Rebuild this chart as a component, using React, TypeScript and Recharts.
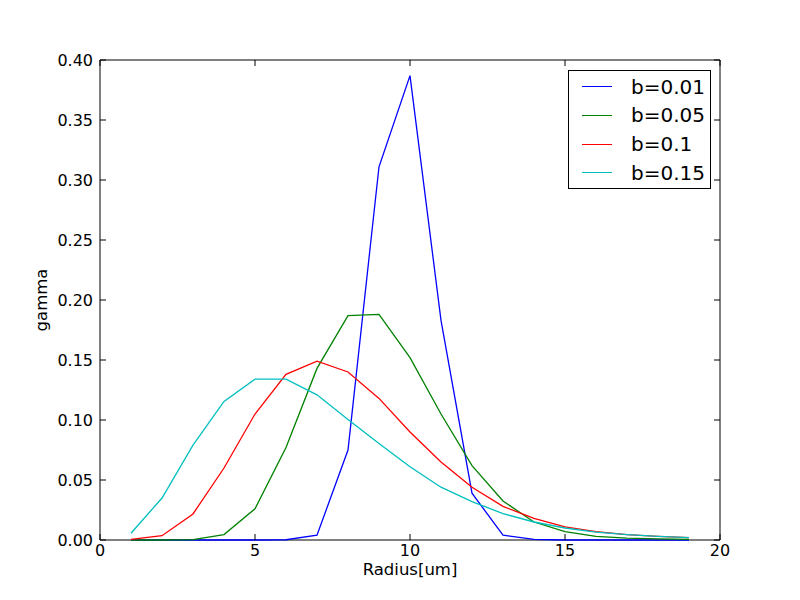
import React from 'react';
import { LineChart, Line, XAxis, YAxis, ReferenceArea } from 'recharts';

const radius = [1, 2, 3, 4, 5, 6, 7, 8, 9, 10, 11, 12, 13, 14, 15, 16, 17, 18, 19];
const b001 = [0, 0, 0, 0, 0, 0.0002, 0.004, 0.075, 0.311, 0.387, 0.183, 0.039, 0.004, 0.0005, 0, 0, 0, 0, 0];
const b005 = [0, 0, 0.0003, 0.0045, 0.026, 0.077, 0.143, 0.187, 0.188, 0.152, 0.105, 0.062, 0.0325, 0.015, 0.007, 0.003, 0.0015, 0.001, 0.0005];
const b01 = [0.0006, 0.0036, 0.0217, 0.06, 0.105, 0.138, 0.149, 0.14, 0.118, 0.09, 0.065, 0.044, 0.028, 0.018, 0.011, 0.007, 0.0045, 0.003, 0.002];
const b015 = [0.0056, 0.035, 0.079, 0.1155, 0.134, 0.134, 0.121, 0.1005, 0.0805, 0.061, 0.044, 0.032, 0.022, 0.015, 0.01, 0.0065, 0.0045, 0.003, 0.002];

const xTicks = [0, 5, 10, 15, 20];
const yTicks = [0, 0.05, 0.1, 0.15, 0.2, 0.25, 0.3, 0.35, 0.4];

const seriesNames = ['b=0.01', 'b=0.05', 'b=0.1', 'b=0.15'];
const seriesColors = ['#0000ff', '#008000', '#ff0000', '#00bfbf'];
const seriesKeys = ['s1', 's2', 's3', 's4'];

const data = radius.map((r, i) => ({ r, s1: b001[i], s2: b005[i], s3: b01[i], s4: b015[i] }));

const FONT = 'DejaVu Sans, sans-serif';
const FS = 16;
const PLOT_LEFT = 92;
const PLOT_RIGHT = 712;
const PLOT_TOP = 52;
const PLOT_BOTTOM = 532;
const TL = 6;
const LW = 1.3;

const bottomTick = (p: any) => (
  <g key={'b' + p.index}>
    <path d={`M${p.x},${PLOT_BOTTOM}V${PLOT_BOTTOM - TL}`} stroke="#000" strokeWidth={1} fill="none" />
    <path d={`M${p.x},${PLOT_TOP}V${PLOT_TOP + TL}`} stroke="#000" strokeWidth={1} fill="none" />
    <text x={p.x} y={PLOT_BOTTOM + 16} textAnchor="middle" fontSize={FS} fontFamily={FONT} fill="#000">
      {p.payload.value}
    </text>
  </g>
);
const leftTick = (p: any) => (
  <g key={'l' + p.index}>
    <path d={`M${PLOT_LEFT},${p.y}H${PLOT_LEFT + TL}`} stroke="#000" strokeWidth={1} fill="none" />
    <path d={`M${PLOT_RIGHT},${p.y}H${PLOT_RIGHT - TL}`} stroke="#000" strokeWidth={1} fill="none" />
    <text x={PLOT_LEFT - 7} y={p.y + 5.8} textAnchor="end" fontSize={FS} fontFamily={FONT} fill="#000">
      {Number(p.payload.value).toFixed(2)}
    </text>
  </g>
);

export default function App() {
  return (
    <div style={{ width: 792, height: 592, position: 'relative', background: '#fff' }}>
      <LineChart width={792} height={592} data={data} margin={{ top: 52, right: 80, bottom: 30, left: 32 }}>
        <XAxis
          xAxisId="b"
          dataKey="r"
          type="number"
          domain={[0, 20]}
          ticks={xTicks}
          tick={bottomTick}
          tickLine={false}
          tickSize={0}
          height={30}
          axisLine={false}
          label={{
            content: () => (
              <text x={402} y={566.5} textAnchor="middle" fontSize={16.5} fontFamily={FONT} fill="#000">
                Radius[um]
              </text>
            ),
          }}
        />
        <YAxis
          yAxisId="l"
          type="number"
          domain={[0, 0.4]}
          ticks={yTicks}
          tick={leftTick}
          tickLine={false}
          tickSize={0}
          width={60}
          axisLine={false}
          label={{
            content: () => (
              <text
                x={38.5}
                y={292}
                textAnchor="middle"
                fontSize={16.5}
                fontFamily={FONT}
                fill="#000"
                transform="rotate(-90 38.5 292)"
              >
                gamma
              </text>
            ),
          }}
        />
        <ReferenceArea
          xAxisId="b"
          yAxisId="l"
          x1={0}
          x2={20}
          y1={0}
          y2={0.4}
          fill="none"
          fillOpacity={0}
          stroke="#000"
          strokeWidth={1}
          strokeOpacity={1}
          ifOverflow="visible"
        />
        {seriesKeys.map((k, i) => (
          <Line
            key={k}
            xAxisId="b"
            yAxisId="l"
            dataKey={k}
            name={seriesNames[i]}
            stroke={seriesColors[i]}
            strokeWidth={LW}
            dot={false}
            isAnimationActive={false}
            type="linear"
          />
        ))}
      </LineChart>
      <div
        style={{
          position: 'absolute',
          top: 62,
          left: 560,
          width: 143,
          height: 119,
          border: '1px solid #000',
          background: '#fff',
          boxSizing: 'border-box',
          fontFamily: FONT,
          fontSize: 20,
          paddingTop: 1.4,
        }}
      >
        {seriesNames.map((n, i) => (
          <div key={n} style={{ display: 'flex', alignItems: 'center', height: 28.7, lineHeight: '20px' }}>
            <div
              style={{
                width: 30,
                height: 0,
                borderTop: `${LW}px solid ${seriesColors[i]}`,
                marginLeft: 13,
                marginRight: 19,
                flexShrink: 0,
              }}
            />
            <span style={{ whiteSpace: 'nowrap' }}>{n}</span>
          </div>
        ))}
      </div>
    </div>
  );
}
